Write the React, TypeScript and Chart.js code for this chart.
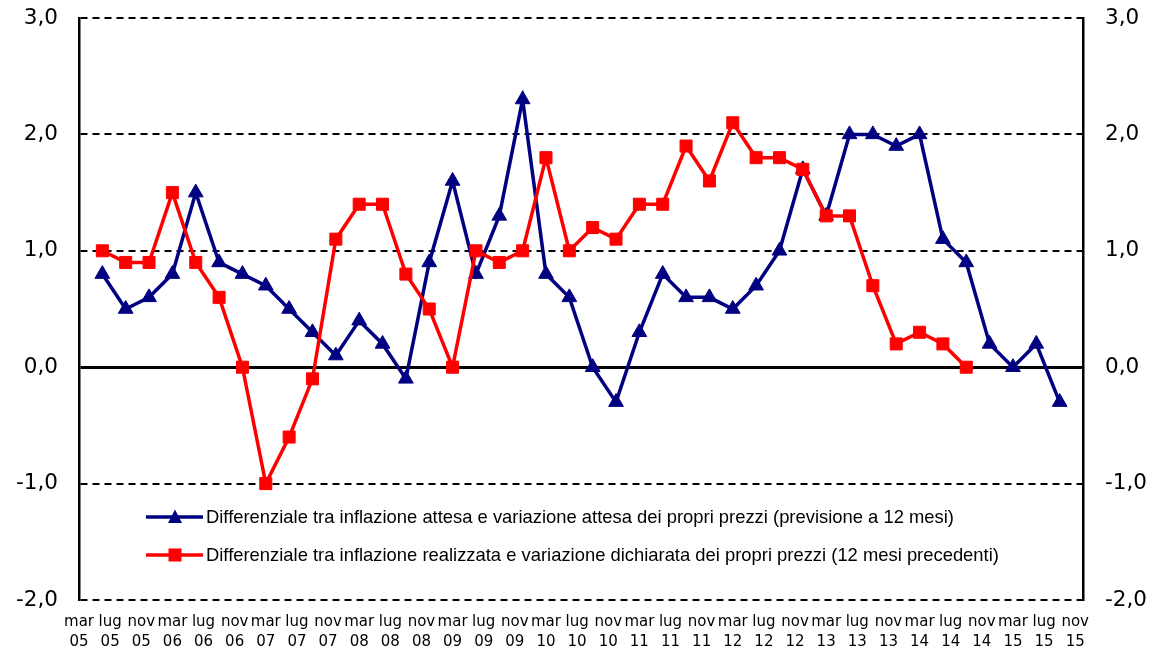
import { useEffect, useRef } from 'react';
import { Chart, registerables } from 'chart.js';

Chart.register(...registerables);

// Month offsets from March 2005 (mar 05 = 0)
const tickMonths = [0, 4, 8, 12, 16, 20, 24, 28, 32, 36, 40, 44, 48, 52, 56, 60, 64, 68, 72, 76, 80, 84, 88, 92, 96, 100, 104, 108, 112, 116, 120, 124, 128];
const tickLabels = [
  ['mar', '05'], ['lug', '05'], ['nov', '05'],
  ['mar', '06'], ['lug', '06'], ['nov', '06'],
  ['mar', '07'], ['lug', '07'], ['nov', '07'],
  ['mar', '08'], ['lug', '08'], ['nov', '08'],
  ['mar', '09'], ['lug', '09'], ['nov', '09'],
  ['mar', '10'], ['lug', '10'], ['nov', '10'],
  ['mar', '11'], ['lug', '11'], ['nov', '11'],
  ['mar', '12'], ['lug', '12'], ['nov', '12'],
  ['mar', '13'], ['lug', '13'], ['nov', '13'],
  ['mar', '14'], ['lug', '14'], ['nov', '14'],
  ['mar', '15'], ['lug', '15'], ['nov', '15'],
];

// Quarterly observations (giu 05 ... set 15), as month offsets
const quarterMonths = [3, 6, 9, 12, 15, 18, 21, 24, 27, 30, 33, 36, 39, 42, 45, 48, 51, 54, 57, 60, 63, 66, 69, 72, 75, 78, 81, 84, 87, 90, 93, 96, 99, 102, 105, 108, 111, 114, 117, 120, 123, 126];

const expectedDiff = [0.8, 0.5, 0.6, 0.8, 1.5, 0.9, 0.8, 0.7, 0.5, 0.3, 0.1, 0.4, 0.2, -0.1, 0.9, 1.6, 0.8, 1.3, 2.3, 0.8, 0.6, 0.0, -0.3, 0.3, 0.8, 0.6, 0.6, 0.5, 0.7, 1.0, 1.7, 1.3, 2.0, 2.0, 1.9, 2.0, 1.1, 0.9, 0.2, 0.0, 0.2, -0.3];
const realizedDiff = [1.0, 0.9, 0.9, 1.5, 0.9, 0.6, 0.0, -1.0, -0.6, -0.1, 1.1, 1.4, 1.4, 0.8, 0.5, 0.0, 1.0, 0.9, 1.0, 1.8, 1.0, 1.2, 1.1, 1.4, 1.4, 1.9, 1.6, 2.1, 1.8, 1.8, 1.7, 1.3, 1.3, 0.7, 0.2, 0.3, 0.2, 0.0];

const seriesLabels = [
  'Differenziale tra inflazione attesa e variazione attesa dei propri prezzi (previsione a 12 mesi)',
  'Differenziale tra inflazione realizzata e variazione dichiarata dei propri prezzi (12 mesi precedenti)',
];

const BLUE = '#000080';
const RED = '#FF0000';

const fmt = (v: number) => v.toFixed(1).replace('.', ',');

const insideLegend = {
  id: 'insideLegend',
  afterDatasetsDraw(chart: any) {
    const ctx = chart.ctx as CanvasRenderingContext2D;
    const rows = [
      { y: 517, color: BLUE, shape: 'triangle', text: seriesLabels[0] },
      { y: 555, color: RED, shape: 'rect', text: seriesLabels[1] },
    ];
    ctx.save();
    rows.forEach((r) => {
      ctx.strokeStyle = r.color;
      ctx.lineWidth = 3.5;
      ctx.beginPath();
      ctx.moveTo(146, r.y);
      ctx.lineTo(203, r.y);
      ctx.stroke();
      ctx.fillStyle = r.color;
      const cx = 175;
      ctx.beginPath();
      if (r.shape === 'triangle') {
        ctx.moveTo(cx, r.y - 7.5);
        ctx.lineTo(cx + 7, r.y + 6);
        ctx.lineTo(cx - 7, r.y + 6);
        ctx.closePath();
      } else {
        ctx.rect(cx - 6.5, r.y - 6.5, 13, 13);
      }
      ctx.fill();
      ctx.fillStyle = '#000';
      ctx.font = '18.4px "Liberation Sans", Arial, sans-serif';
      ctx.textAlign = 'left';
      ctx.textBaseline = 'middle';
      ctx.fillText(r.text, 206, r.y + 1);
    });
    ctx.restore();
  },
};

export default function App() {
  const ref = useRef<HTMLCanvasElement | null>(null);

  useEffect(() => {
    document.body.style.margin = '0';
    const canvas = ref.current;
    if (!canvas) return;

    const yTickFont = { family: '"DejaVu Sans", Verdana, sans-serif', size: 21.5 };

    const chart = new Chart(canvas, {
      type: 'line',
      data: {
        datasets: [
          {
            label: seriesLabels[0],
            data: quarterMonths.map((m, i) => ({ x: m, y: expectedDiff[i] })),
            borderColor: BLUE,
            backgroundColor: BLUE,
            borderWidth: 3.5,
            pointStyle: 'triangle',
            pointRadius: 8.5,
            pointBorderWidth: 1,
            pointBorderColor: BLUE,
            pointBackgroundColor: BLUE,
            tension: 0,
            order: 1,
          },
          {
            label: seriesLabels[1],
            data: realizedDiff.map((v, i) => ({ x: quarterMonths[i], y: v })),
            borderColor: RED,
            backgroundColor: RED,
            borderWidth: 3.5,
            pointStyle: 'rect',
            pointRadius: 8.5,
            pointBorderWidth: 1,
            pointBorderColor: RED,
            pointBackgroundColor: RED,
            tension: 0,
            order: 0,
          },
        ],
      },
      options: {
        animation: false,
        responsive: false,
        maintainAspectRatio: false,
        layout: { padding: { top: 18, left: 0, right: 0, bottom: 0 } },
        plugins: {
          legend: { display: false },
          tooltip: { enabled: false },
        },
        scales: {
          x: {
            type: 'linear',
            min: 0,
            max: 129,
            grid: { display: false, drawTicks: false },
            border: { display: false },
            afterBuildTicks: (scale: any) => {
              scale.ticks = tickMonths.map((v) => ({ value: v }));
            },
            afterFit: (scale: any) => {
              scale.height = 50;
              scale.paddingLeft = 0;
              scale.paddingRight = 0;
            },
            ticks: {
              autoSkip: false,
              maxRotation: 0,
              minRotation: 0,
              padding: 12,
              color: '#000',
              font: { family: '"DejaVu Sans", Verdana, sans-serif', size: 15, lineHeight: 1.35 },
              callback: (_v: any, i: number) => tickLabels[i],
            },
          },
          y: {
            position: 'left',
            min: -2,
            max: 3,
            afterFit: (scale: any) => {
              scale.width = 79;
              scale.paddingTop = 0;
              scale.paddingBottom = 0;
            },
            ticks: {
              stepSize: 1,
              padding: 21,
              color: '#000',
              font: yTickFont,
              callback: (v: any) => fmt(Number(v)),
            },
            grid: {
              drawTicks: false,
              color: '#000',
              lineWidth: (c: any) => (c.tick && c.tick.value === 0 ? 3 : 2),
            },
            border: {
              display: true,
              color: '#000',
              width: 2.5,
              dash: (c: any) => (c.tick && c.tick.value === 0 ? [] : [7, 5]),
            },
          },
          y2: {
            position: 'right',
            min: -2,
            max: 3,
            afterFit: (scale: any) => {
              scale.width = 74;
              scale.paddingTop = 0;
              scale.paddingBottom = 0;
            },
            ticks: {
              stepSize: 1,
              padding: 22,
              color: '#000',
              font: yTickFont,
              callback: (v: any) => fmt(Number(v)),
            },
            grid: { display: false, drawTicks: false },
            border: { display: true, color: '#000', width: 2.5 },
          },
        },
      },
      plugins: [insideLegend],
    } as any);

    return () => chart.destroy();
  }, []);

  return (
    <div style={{ width: 1157, height: 650 }}>
      <canvas ref={ref} width={1157} height={650} />
    </div>
  );
}
